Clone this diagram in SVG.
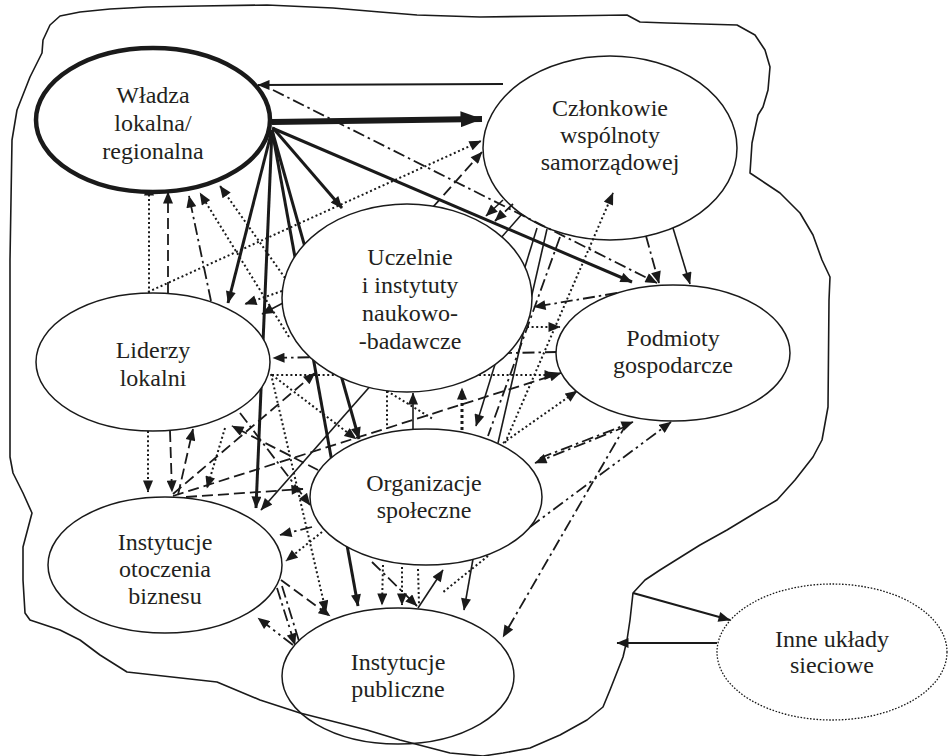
<svg xmlns="http://www.w3.org/2000/svg" width="948" height="756" viewBox="0 0 948 756">
  <style>
    .bg { fill: #ffffff; }
    .node { fill: #ffffff; stroke: #1a1a1a; stroke-width: 1.5; }
    .main { stroke-width: 4.5; }
    .ext { fill: #ffffff; stroke: #1a1a1a; stroke-width: 1.3; stroke-dasharray: 1.6 1.6; }
    .lbl { font-family: "Liberation Serif", "Times New Roman", serif; font-size: 24px; fill: #231f20; text-anchor: middle; }
    .c { fill: none; stroke: #1a1a1a; }
    .s { stroke-width: 1.6; }
    .t { stroke-width: 3; }
    .b { stroke-width: 6; }
    .d { stroke-width: 1.8; stroke-dasharray: 11 5; }
    .o { stroke-width: 2; stroke-dasharray: 2 2.6; }
    .ob { stroke-width: 3; stroke-dasharray: 3 3; }
    .dd { stroke-width: 1.8; stroke-dasharray: 12 4 2.5 4; }
    .ddd { stroke-width: 1.8; stroke-dasharray: 12 4 2.5 4 2.5 4; }
    .blob { fill: none; stroke: #1a1a1a; stroke-width: 1.6; stroke-linejoin: round; }
  </style>
  <defs>
    <marker id="ah" viewBox="0 0 12 10" refX="11.5" refY="5" markerWidth="13" markerHeight="10" markerUnits="userSpaceOnUse" orient="auto">
      <path d="M0,0 L12,5 L0,10 z" fill="#1a1a1a"/>
    </marker>
    <marker id="ahBig" viewBox="0 0 22 16" refX="21.5" refY="8" markerWidth="22" markerHeight="16" markerUnits="userSpaceOnUse" orient="auto">
      <path d="M0,0 L22,8 L0,16 z" fill="#1a1a1a"/>
    </marker>
  </defs>

  <rect class="bg" x="0" y="0" width="948" height="756"/>

  <!-- community members node sits under the connectors so arrow tips can overlap it -->
  <g id="node-czlonkowie">
    <ellipse class="node" cx="610" cy="148" rx="127" ry="92"/>
    <text class="lbl" x="610" y="116">Członkowie</text>
    <text class="lbl" x="610" y="143">wspólnoty</text>
    <text class="lbl" x="610" y="170">samorządowej</text>
  </g>

  <g id="connectors">
    <!-- authority: outgoing ties -->
    <path class="c b" d="M272,122 L482,119" marker-end="url(#ahBig)"/>
    <path class="c s" d="M503,84 L258,85" style="stroke-width:2" marker-end="url(#ah)"/>
    <path class="c dd" d="M273,90 L657,283" marker-end="url(#ah)"/>
    <path class="c t" d="M272,128 L632,282" marker-end="url(#ah)"/>
    <path class="c t" d="M273,128 L342,208" marker-end="url(#ah)"/>
    <path class="c t" d="M272,130 L228,303" marker-end="url(#ah)"/>
    <path class="c t" d="M272,130 L256,508" marker-end="url(#ah)"/>
    <path class="c t" d="M272,130 L358,606" marker-end="url(#ah)"/>
    <path class="c t" d="M272,130 L359,439" marker-end="url(#ah)"/>

    <!-- authority: incoming ties -->
    <path class="c o" d="M149,293 L149,184" marker-end="url(#ah)"/>
    <path class="c d" d="M168,293 L168,192" marker-end="url(#ah)"/>
    <path class="c dd" d="M211,301 L189,196" marker-end="url(#ah)"/>
    <path class="c o" d="M289,337 L200,193" marker-end="url(#ah)"/>
    <path class="c o" d="M285,278 L220,186" marker-end="url(#ah)"/>

    <!-- community members -->
    <path class="c o" d="M148,292 L481,141" marker-end="url(#ah)"/>
    <path class="c d" d="M433,207 L482,152" marker-end="url(#ah)"/>
    <path class="c s" d="M503,200 L486,216" marker-end="url(#ah)"/>
    <path class="c d" d="M513,204 L495,221" marker-end="url(#ah)"/>
    <path class="c dd" d="M560,237 L488,436"/>
    <path class="c s" d="M547,229 L498,443"/>
    <path class="c s" d="M537,228 L476,426" marker-end="url(#ah)"/>
    <path class="c s" d="M522,214 L261,510" marker-end="url(#ah)"/>
    <path class="c s" d="M673,228 L690,284" marker-end="url(#ah)"/>
    <path class="c dd" d="M646,236 L659,283" marker-end="url(#ah)"/>
    <path class="c o" d="M505,443 L613,193" marker-end="url(#ah)"/>

    <!-- leaders -->
    <path class="c o" d="M148,431 L148,492" marker-end="url(#ah)"/>
    <path class="c d" d="M170,431 L172,492" marker-end="url(#ah)"/>
    <path class="c d" d="M178,495 L193,429" marker-end="url(#ah)"/>
    <path class="c o" d="M282,291 L245,304" marker-end="url(#ah)"/>
    <path class="c s" d="M283,303 L262,314" marker-end="url(#ah)"/>
    <path class="c dd" d="M557,352 L273,358" marker-end="url(#ah)"/>
    <path class="c o" d="M272,375 L556,375" marker-end="url(#ah)"/>
    <path class="c o" d="M271,374 L326,612" marker-end="url(#ah)"/>
    <path class="c o" d="M272,375 L356,439" marker-end="url(#ah)"/>
    <path class="c dd" d="M240,413 L310,505" marker-end="url(#ah)"/>
    <path class="c d" d="M318,470 L232,426" marker-end="url(#ah)"/>
    <path class="c o" d="M225,428 L207,488" marker-end="url(#ah)"/>

    <!-- universities -->
    <path class="c o" d="M527,327 L560,327" marker-end="url(#ah)"/>
    <path class="c dd" d="M617,293 L534,307" marker-end="url(#ah)"/>
    <path class="c o" d="M387,391 L387,429"/>
    <path class="c o" d="M387,391 L433,419"/>
    <path class="c s" d="M413,429 L413,393" marker-end="url(#ah)"/>
    <path class="c ob" d="M462,430 L462,388" marker-end="url(#ah)"/>

    <!-- business environment institutions -->
    <path class="c d" d="M173,494 L315,373" marker-end="url(#ah)"/>
    <path class="c d" d="M173,496 L561,373" marker-end="url(#ah)"/>
    <path class="c d" d="M186,497 L303,489" marker-end="url(#ah)"/>
    <path class="c d" d="M281,580 L330,616" marker-end="url(#ah)"/>
    <path class="c dd" d="M277,588 L295,645" marker-end="url(#ah)"/>
    <path class="c dd" d="M282,586 L299,641"/>
    <path class="c ddd" d="M293,645 L258,618" marker-end="url(#ah)"/>

    <!-- social organisations -->
    <path class="c o" d="M503,443 L577,391" marker-end="url(#ah)"/>
    <path class="c dd" d="M540,458 L633,422" marker-end="url(#ah)"/>
    <path class="c dd" d="M627,426 L535,463" marker-end="url(#ah)"/>
    <path class="c ddd" d="M530,527 L671,422" marker-end="url(#ah)"/>
    <path class="c dd" d="M627,423 L503,637" marker-end="url(#ah)"/>
    <path class="c dd" d="M312,527 L280,535" marker-end="url(#ah)"/>
    <path class="c o" d="M322,532 L286,561" marker-end="url(#ah)"/>
    <path class="c o" d="M383,565 L382,605" marker-end="url(#ah)"/>
    <path class="c o" d="M402,567 L402,605" marker-end="url(#ah)"/>
    <path class="c o" d="M418,569 L419,604"/>
    <path class="c s" d="M418,608 L443,570" marker-end="url(#ah)"/>
    <path class="c dd" d="M372,562 L417,606" marker-end="url(#ah)"/>
    <path class="c o" d="M488,556 L442,593"/>
    <path class="c s" d="M473,559 L464,610" marker-end="url(#ah)"/>

    <!-- links with other networks -->
    <path class="c s" d="M633,593 L730,620" style="stroke-width:2.2" marker-end="url(#ah)"/>
    <path class="c s" d="M717,643 L617,643" style="stroke-width:2.2" marker-end="url(#ah)"/>
  </g>

  <g id="node-wladza">
    <ellipse class="node main" cx="153" cy="120" rx="117" ry="72"/>
    <text class="lbl" x="153" y="103">Władza</text>
    <text class="lbl" x="153" y="131">lokalna/</text>
    <text class="lbl" x="153" y="159">regionalna</text>
  </g>
  <g id="node-uczelnie">
    <ellipse class="node" cx="407" cy="298" rx="125" ry="94"/>
    <text class="lbl" x="410" y="265">Uczelnie</text>
    <text class="lbl" x="410" y="293">i instytuty</text>
    <text class="lbl" x="410" y="321">naukowo-</text>
    <text class="lbl" x="410" y="349">-badawcze</text>
  </g>
  <g id="node-liderzy">
    <ellipse class="node" cx="153" cy="362" rx="117" ry="69"/>
    <text class="lbl" x="153" y="358">Liderzy</text>
    <text class="lbl" x="153" y="386">lokalni</text>
  </g>
  <g id="node-podmioty">
    <ellipse class="node" cx="673" cy="353" rx="117" ry="68"/>
    <text class="lbl" x="673" y="346">Podmioty</text>
    <text class="lbl" x="673" y="373">gospodarcze</text>
  </g>
  <g id="node-organizacje">
    <ellipse class="node" cx="426" cy="497" rx="116" ry="68"/>
    <text class="lbl" x="424" y="491">Organizacje</text>
    <text class="lbl" x="424" y="518">społeczne</text>
  </g>
  <g id="node-otoczenie">
    <ellipse class="node" cx="165" cy="565" rx="117" ry="68"/>
    <text class="lbl" x="165" y="550">Instytucje</text>
    <text class="lbl" x="165" y="577">otoczenia</text>
    <text class="lbl" x="165" y="604">biznesu</text>
  </g>
  <g id="node-publiczne">
    <ellipse class="node" cx="398" cy="676" rx="116" ry="68"/>
    <text class="lbl" x="398" y="670">Instytucje</text>
    <text class="lbl" x="398" y="697">publiczne</text>
  </g>
  <g id="node-inne">
    <ellipse class="ext" cx="832" cy="652" rx="115" ry="68"/>
    <text class="lbl" x="832" y="647">Inne układy</text>
    <text class="lbl" x="832" y="673">sieciowe</text>
  </g>

  <!-- hand-drawn boundary of the local network -->
  <path class="blob" d="M50,25 L60,16 L80,12 L110,9 L147,7 L200,6 L267,5 L333,8 L380,12 L417,15 L480,17 L560,16 L627,15 L640,22 L667,23 L737,25 L755,35 L765,50 L770,67 L768,90 L763,107 L758,115 L752,143 L750,173 L765,183 L780,193 L800,213 L813,235 L822,260 L830,277 L829,300 L828,407 L822,440 L813,457 L795,480 L777,500 L760,510 L727,530 L700,545 L660,570 L645,580 L633,593 L630,620 L627,640 L623,657 L610,690 L603,707 L587,720 L560,735 L530,748 L503,753 L483,756 L450,753 L400,740 L367,730 L300,713 L260,700 L217,682 L127,672 L100,655 L80,640 L60,630 L30,620 L25,613 L23,580 L23,547 L32,513 L23,493 L13,473 L10,457 L10,260 L12,140 L17,110 L30,77 L42,53 L43,40 Z"/>
</svg>
